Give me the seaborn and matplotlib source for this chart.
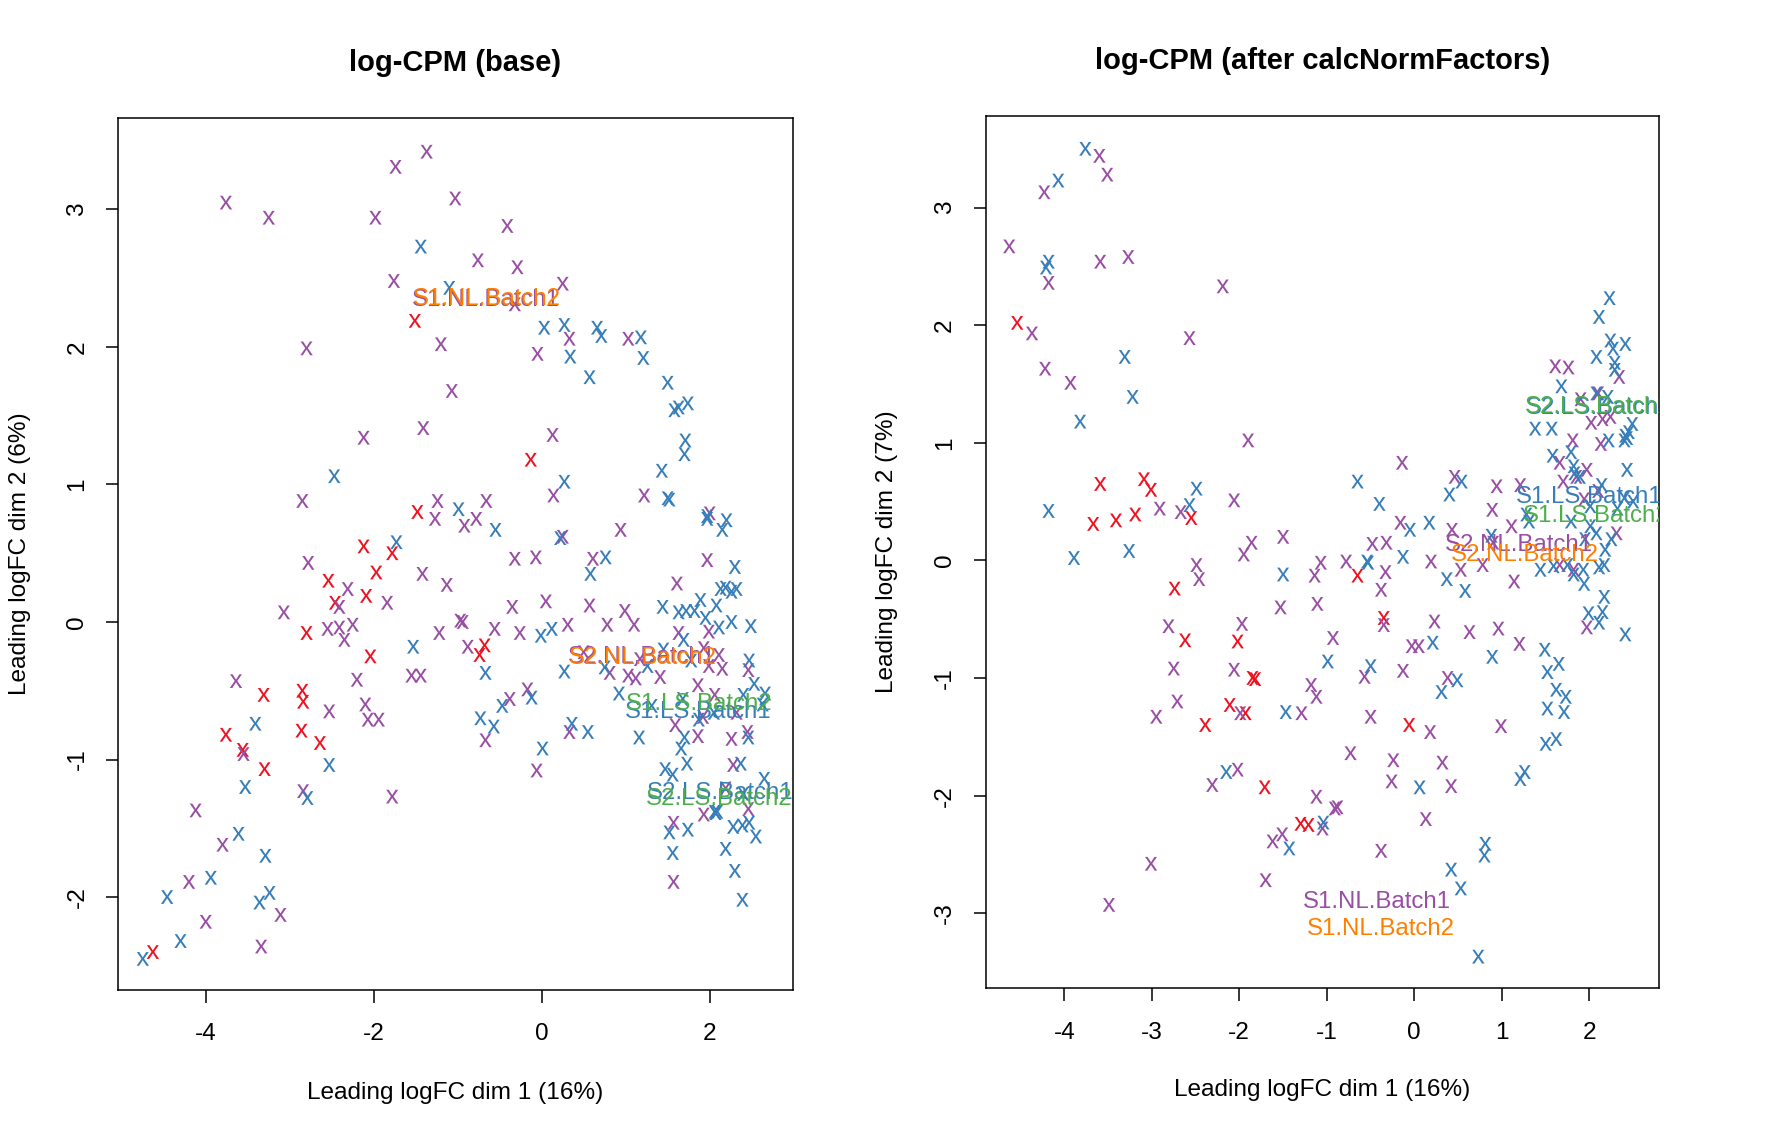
import matplotlib
matplotlib.use("Agg")
import matplotlib.pyplot as plt
from matplotlib.font_manager import FontProperties
from matplotlib.path import Path
from matplotlib.textpath import TextPath
import pandas as pd
import seaborn as sns

# --- values (dim 1, dim 2) ---
base_red = [(-1.51, 2.19), (-1.48, 0.80), (-2.12, 0.55), (-1.78, 0.50), (-2.54, 0.30), (-1.97, 0.36),
            (-2.46, 0.14), (-2.09, 0.19), (-2.80, -0.08), (-2.04, -0.25), (-3.31, -0.53), (-2.85, -0.50),
            (-2.84, -0.58), (-2.86, -0.79), (-2.64, -0.88), (-3.76, -0.82), (-3.56, -0.93), (-3.30, -1.07),
            (-4.63, -2.40), (-0.13, 1.18), (-0.68, -0.17), (-0.74, -0.24)]
base_purple = [(-3.76, 3.05), (-3.25, 2.94), (-1.98, 2.94), (-1.74, 3.31), (-1.37, 3.42), (-1.03, 3.08),
               (-1.76, 2.48), (-2.80, 1.99), (-1.20, 2.02), (-1.07, 1.68), (-1.41, 1.41), (-2.12, 1.34),
               (-2.85, 0.88), (-1.24, 0.88), (-1.27, 0.75), (-2.78, 0.43), (-2.31, 0.24), (-1.42, 0.35),
               (-1.13, 0.27), (-1.84, 0.14), (-2.41, 0.11), (-3.07, 0.07), (-2.55, -0.05), (-2.41, -0.04),
               (-2.25, -0.02), (-2.35, -0.13), (-1.22, -0.08), (-0.97, 0.01), (-1.55, -0.39), (-1.44, -0.39),
               (-2.20, -0.42), (-3.64, -0.43), (-2.10, -0.60), (-2.53, -0.65), (-2.07, -0.71), (-1.94, -0.71),
               (-3.55, -0.96), (-2.84, -1.23), (-1.78, -1.27), (-4.12, -1.37), (-3.80, -1.62), (-4.20, -1.89),
               (-4.00, -2.18), (-3.11, -2.13), (-3.34, -2.36), (-0.41, 2.88), (-0.76, 2.63), (-0.29, 2.58),
               (0.25, 2.46), (-0.32, 2.31), (0.33, 2.06), (-0.05, 1.95), (1.03, 2.06), (0.13, 1.36),
               (1.22, 0.92), (0.14, 0.92), (-0.66, 0.88), (-0.78, 0.75), (-0.92, 0.70), (0.25, 0.62),
               (0.94, 0.67), (2.00, 0.79), (-0.32, 0.46), (-0.07, 0.47), (0.61, 0.46), (1.97, 0.45),
               (1.61, 0.28), (0.05, 0.15), (-0.35, 0.11), (0.57, 0.12), (-0.94, 0.00), (-0.56, -0.05),
               (-0.26, -0.08), (0.31, -0.02), (0.78, -0.02), (0.99, 0.08), (1.10, -0.02), (1.63, -0.08),
               (1.99, -0.07), (-0.88, -0.18), (0.50, -0.22), (0.81, -0.37), (1.03, -0.39), (1.12, -0.41),
               (1.41, -0.40), (1.17, -0.27), (1.93, -0.19), (2.11, -0.24), (1.99, -0.32), (2.15, -0.34),
               (2.46, -0.35), (1.86, -0.46), (2.06, -0.53), (-0.17, -0.49), (-0.38, -0.56), (-0.67, -0.86),
               (0.33, -0.80), (1.59, -0.75), (1.92, -0.69), (2.32, -0.66), (1.86, -0.83), (2.26, -0.85),
               (2.45, -0.80), (2.28, -1.04), (-0.06, -1.08), (2.19, -1.21), (2.46, -1.36), (1.93, -1.40),
               (1.57, -1.46), (1.57, -1.89)]
base_blue = [(-1.44, 2.73), (-1.10, 2.43), (-2.47, 1.06), (-0.99, 0.82), (-1.73, 0.58), (-1.53, -0.18),
             (-3.41, -0.74), (-2.53, -1.04), (-3.53, -1.20), (-2.79, -1.28), (-3.61, -1.54), (-3.29, -1.70),
             (-3.94, -1.86), (-4.46, -2.00), (-3.24, -1.97), (-3.36, -2.04), (-4.30, -2.32), (-4.75, -2.45),
             (0.03, 2.14), (0.27, 2.16), (0.66, 2.14), (0.71, 2.08), (1.18, 2.07), (0.34, 1.93),
             (1.21, 1.92), (0.57, 1.78), (1.50, 1.74), (1.74, 1.59), (1.63, 1.56), (1.58, 1.54),
             (1.71, 1.32), (1.70, 1.22), (1.43, 1.10), (0.27, 1.02), (1.50, 0.90), (1.52, 0.89),
             (-0.55, 0.67), (0.22, 0.61), (1.97, 0.77), (1.97, 0.75), (2.20, 0.74), (2.15, 0.67),
             (0.76, 0.47), (0.58, 0.35), (2.30, 0.40), (2.13, 0.24), (2.19, 0.25), (2.26, 0.22),
             (2.32, 0.24), (1.44, 0.11), (1.63, 0.07), (1.72, 0.08), (1.82, 0.08), (1.89, 0.16),
             (2.08, 0.12), (1.95, 0.03), (2.11, -0.04), (2.26, 0.00), (2.49, -0.03), (-0.01, -0.10),
             (0.12, -0.05), (1.69, -0.13), (1.45, -0.20), (0.27, -0.36), (0.75, -0.33), (1.26, -0.32),
             (1.78, -0.28), (2.47, -0.28), (-0.67, -0.37), (2.53, -0.45), (0.92, -0.52), (2.40, -0.53),
             (2.66, -0.52), (2.63, -0.60), (1.31, -0.61), (1.68, -0.56), (2.05, -0.66), (1.87, -0.71),
             (-0.12, -0.55), (-0.47, -0.61), (-0.73, -0.70), (-0.57, -0.76), (0.36, -0.74), (0.55, -0.80),
             (1.16, -0.84), (1.70, -0.84), (1.66, -0.92), (2.46, -0.84), (0.01, -0.92), (1.73, -1.03),
             (2.37, -1.03), (1.47, -1.07), (1.56, -1.11), (2.65, -1.14), (2.40, -1.25), (2.06, -1.38),
             (2.09, -1.38), (2.07, -1.39), (1.74, -1.51), (1.52, -1.53), (2.28, -1.49), (2.39, -1.48),
             (2.47, -1.46), (2.55, -1.56), (1.56, -1.68), (2.19, -1.65), (2.30, -1.81), (2.39, -2.02)]

norm_red = [(-4.54, 2.02), (-3.59, 0.65), (-3.09, 0.69), (-3.01, 0.60), (-3.19, 0.39), (-3.41, 0.34),
            (-3.67, 0.31), (-2.55, 0.36), (-2.74, -0.24), (-2.62, -0.68), (-2.02, -0.69), (-1.85, -1.00),
            (-1.82, -1.01), (-2.11, -1.23), (-1.93, -1.30), (-2.39, -1.40), (-1.71, -1.93), (-1.30, -2.24),
            (-1.21, -2.25), (-0.65, -0.13), (-0.35, -0.49), (-0.06, -1.40)]
norm_purple = [(-3.60, 3.44), (-3.51, 3.28), (-4.23, 3.13), (-4.63, 2.67), (-3.59, 2.54), (-3.27, 2.58),
               (-4.18, 2.36), (-2.19, 2.33), (-4.37, 1.93), (-2.57, 1.89), (-4.22, 1.63), (-3.93, 1.51),
               (-1.90, 1.02), (-2.06, 0.51), (-2.91, 0.44), (-2.67, 0.41), (-1.50, 0.20), (-1.86, 0.15),
               (-1.95, 0.05), (-1.07, -0.02), (-2.49, -0.04), (-2.46, -0.16), (-1.14, -0.13), (-1.11, -0.37),
               (-1.53, -0.40), (-2.81, -0.56), (-1.97, -0.54), (-0.93, -0.66), (-2.75, -0.92), (-2.06, -0.93),
               (-1.18, -1.06), (-1.12, -1.16), (-2.71, -1.20), (-2.95, -1.33), (-1.99, -1.30), (-1.29, -1.30),
               (-2.02, -1.78), (-2.31, -1.91), (-1.12, -2.01), (-0.91, -2.11), (-1.05, -2.28), (-1.51, -2.33),
               (-1.62, -2.39), (-3.01, -2.58), (-1.70, -2.72), (-3.49, -2.93), (1.61, 1.65), (1.76, 1.64),
               (2.34, 1.56), (2.10, 1.42), (1.90, 1.37), (2.02, 1.17), (2.15, 1.20), (2.24, 1.22),
               (1.81, 1.02), (2.13, 0.99), (-0.14, 0.83), (1.66, 0.83), (1.97, 0.77), (1.85, 0.71),
               (1.70, 0.67), (0.46, 0.71), (0.94, 0.63), (1.21, 0.64), (2.10, 0.59), (1.94, 0.52),
               (0.89, 0.43), (1.11, 0.29), (-0.16, 0.32), (0.43, 0.26), (2.31, 0.23), (-0.48, 0.14),
               (-0.32, 0.15), (0.90, 0.15), (-0.78, -0.01), (0.19, -0.01), (-0.33, -0.10), (0.53, -0.08),
               (0.78, -0.04), (1.66, -0.04), (1.82, -0.08), (1.14, -0.18), (-0.38, -0.25), (-0.35, -0.55),
               (0.23, -0.52), (0.63, -0.61), (0.96, -0.58), (1.97, -0.57), (1.20, -0.71), (-0.03, -0.73),
               (0.05, -0.73), (-0.57, -0.99), (-0.13, -0.94), (0.38, -1.00), (-0.50, -1.33), (0.99, -1.41),
               (0.18, -1.46), (-0.73, -1.64), (-0.24, -1.70), (0.32, -1.72), (-0.26, -1.88), (0.42, -1.92),
               (-0.88, -2.10), (0.13, -2.20), (-0.38, -2.47)]
norm_blue = [(-3.76, 3.50), (-4.07, 3.23), (-4.18, 2.54), (-4.21, 2.49), (-3.31, 1.73), (-3.22, 1.39),
             (-3.82, 1.18), (-2.49, 0.61), (-2.57, 0.47), (-4.18, 0.42), (-3.26, 0.08), (-3.89, 0.02),
             (-1.50, -0.12), (-0.99, -0.86), (-1.47, -1.29), (-2.15, -1.80), (-1.04, -2.23), (-1.43, -2.45),
             (2.23, 2.23), (2.11, 2.07), (2.24, 1.87), (2.41, 1.84), (2.27, 1.80), (2.08, 1.73),
             (2.29, 1.68), (2.29, 1.62), (1.68, 1.48), (2.08, 1.42), (2.21, 1.39), (1.38, 1.12),
             (1.57, 1.12), (2.49, 1.16), (2.45, 1.09), (2.41, 1.06), (2.40, 1.02), (2.43, 1.04),
             (2.22, 1.02), (1.79, 0.92), (1.58, 0.89), (1.82, 0.80), (2.43, 0.77), (1.83, 0.74),
             (1.89, 0.71), (2.14, 0.64), (-0.65, 0.67), (0.54, 0.67), (0.40, 0.56), (-0.40, 0.48),
             (-0.05, 0.26), (0.17, 0.32), (2.40, 0.53), (2.50, 0.50), (2.32, 0.44), (2.01, 0.46),
             (1.28, 0.39), (1.31, 0.33), (1.79, 0.33), (2.01, 0.29), (2.08, 0.23), (2.25, 0.18),
             (1.95, 0.18), (0.88, 0.21), (2.18, 0.09), (-0.13, 0.03), (-0.53, -0.02), (-0.54, -0.01),
             (0.37, -0.16), (0.58, -0.26), (1.44, -0.08), (1.59, -0.05), (1.75, -0.04), (1.93, -0.08),
             (1.82, -0.12), (2.11, -0.06), (2.17, -0.04), (1.94, -0.20), (2.17, -0.31), (1.99, -0.45),
             (2.15, -0.44), (2.11, -0.53), (2.41, -0.63), (0.21, -0.70), (0.89, -0.82), (1.49, -0.76),
             (1.65, -0.88), (1.52, -0.95), (-0.50, -0.90), (0.49, -1.02), (0.31, -1.12), (1.62, -1.10),
             (1.73, -1.16), (1.52, -1.26), (1.71, -1.29), (1.62, -1.52), (1.50, -1.56), (1.26, -1.80),
             (1.21, -1.86), (0.06, -1.93), (0.81, -2.41), (0.80, -2.51), (0.42, -2.63), (0.53, -2.79),
             (0.73, -3.37)]

# group centroids, drawn as text labels
group_names = ["S1.NL.Batch1", "S1.NL.Batch2", "S2.NL.Batch1", "S2.NL.Batch2",
               "S1.LS.Batch1", "S1.LS.Batch2", "S2.LS.Batch1", "S2.LS.Batch2"]
group_colors = ["#984EA3", "#FF7F00", "#984EA3", "#FF7F00",
                "#377EB8", "#4DAF4A", "#377EB8", "#4DAF4A"]
base_centers = [(-0.66, 2.345), (-0.655, 2.35), (1.20, -0.255), (1.205, -0.26),
                (1.86, -0.657), (1.877, -0.595), (2.13, -1.245), (2.12, -1.288)]
norm_centers = [(-0.43, -2.905), (-0.38, -3.135), (1.197, 0.135), (1.265, 0.049),
                (2.00, 0.542), (2.08, 0.381), (2.11, 1.30), (2.105, 1.305)]

palette = {"red": "#F0101E", "purple": "#984EA3", "blue": "#377EB8"}
FONT = "Liberation Sans"
LABEL_SIZE = 17.3
AXIS_SIZE = 17.6
W, H = 1779, 1137

sns.set_theme(style="ticks")
plt.rcParams["font.family"] = [FONT]
plt.rcParams["axes.unicode_minus"] = False

# the points in the original are a plotted letter x, not a marker
raw = TextPath((0, 0), "x", size=10, prop=FontProperties(family=FONT))
mid = (raw.vertices.min(axis=0) + raw.vertices.max(axis=0)) / 2
letter_x = Path(raw.vertices - mid, raw.codes)


def make_frame(red, purple, blue):
    parts = []
    for name, pts in (("red", red), ("purple", purple), ("blue", blue)):
        part = pd.DataFrame(pts, columns=["dim1", "dim2"])
        part["group"] = name
        parts.append(part)
    return pd.concat(parts, ignore_index=True)


def draw_panel(fig, box, df, centers, title, ylab, xlim, ylim, xticks, yticks, label_pos):
    left, top, right, bottom = box
    ax = fig.add_axes([left / W, (H - bottom) / H, (right - left) / W, (bottom - top) / H])
    sns.scatterplot(data=df, x="dim1", y="dim2", hue="group", palette=palette, marker=letter_x,
                    s=98, linewidth=0, edgecolor="none", legend=False, ax=ax)
    for name, color, (cx, cy) in zip(group_names, group_colors, centers):
        ax.text(cx, cy, name, color=color, fontsize=LABEL_SIZE, ha="center", va="center", clip_on=True)

    ax.set_xlim(*xlim)
    ax.set_ylim(*ylim)
    ax.set_xticks(xticks)
    ax.set_yticks(yticks)
    ax.tick_params(length=9, width=1.1, color="black", labelsize=AXIS_SIZE, labelcolor="black")
    ax.tick_params(axis="x", pad=15)
    ax.tick_params(axis="y", pad=12.5)
    plt.setp(ax.get_yticklabels(), rotation=90, va="center")
    for spine in ax.spines.values():
        spine.set_linewidth(1.1)
        spine.set_color("black")

    ax.set_xlabel("Leading logFC dim 1 (16%)", fontsize=AXIS_SIZE, color="black", va="center")
    ax.set_ylabel(ylab, fontsize=AXIS_SIZE, color="black", va="center")
    ax.xaxis.set_label_coords(0.5, label_pos[0])
    ax.yaxis.set_label_coords(label_pos[1], 0.5)
    ax.set_title(title, fontsize=21, fontweight="bold", color="black", y=label_pos[2], va="center", pad=0)
    return ax


fig = plt.figure(figsize=(W / 100, H / 100), dpi=100)

draw_panel(fig, (118.3, 118.3, 792.7, 990), make_frame(base_red, base_purple, base_blue), base_centers,
           "log-CPM (base)", "Leading logFC dim 2 (6%)", (-5.04, 2.99), (-2.676, 3.663),
           [-4, -2, 0, 2], [-2, -1, 0, 1, 2, 3], (-0.1177, -0.1453, 1.0632))
draw_panel(fig, (985.5, 116, 1659.3, 988.3), make_frame(norm_red, norm_purple, norm_blue), norm_centers,
           "log-CPM (after calcNormFactors)", "Leading logFC dim 2 (7%)", (-4.90, 2.80), (-3.639, 3.779),
           [-4, -3, -2, -1, 0, 1, 2], [-3, -2, -1, 0, 1, 2, 3], (-0.1167, -0.1458, 1.0629))

fig.savefig("out.png", dpi=100)
